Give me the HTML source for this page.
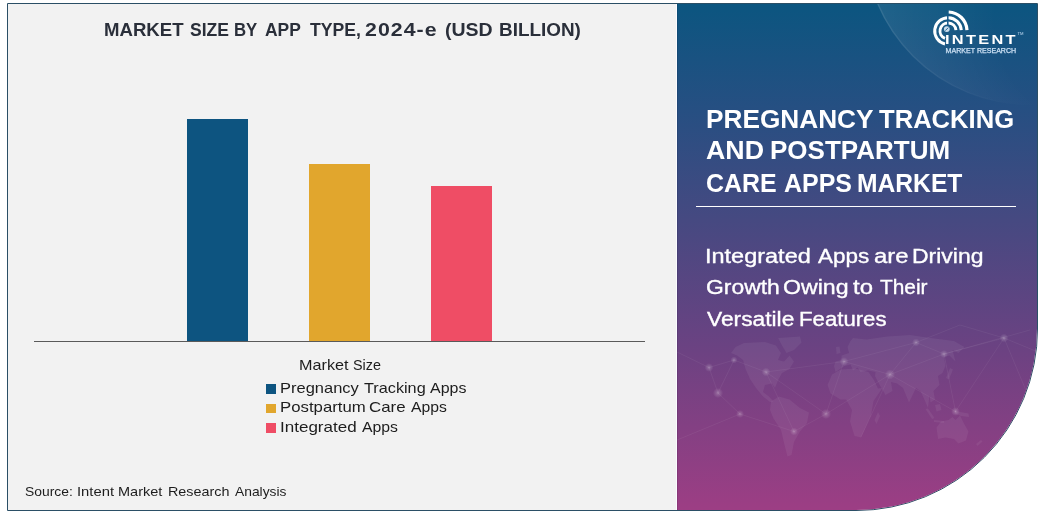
<!DOCTYPE html>
<html lang="en">
<head>
<meta charset="utf-8">
<title>Pregnancy Tracking and Postpartum Care Apps Market</title>
<style>
  html, body { margin: 0; padding: 0; background: #ffffff; }
  body { width: 1043px; height: 513px; position: relative; overflow: hidden;
         font-family: "Liberation Sans", sans-serif; }
  .frame { position: absolute; left: 7px; top: 3px; width: 1029px; height: 506px;
           border: 1px solid #2b4f66; border-bottom-right-radius: 182px;
           background: #f2f2f2; overflow: hidden; }
  /* everything inside .frame is positioned relative to page origin via offset wrapper */
  .in { position: absolute; left: -8px; top: -4px; width: 1043px; height: 513px; }
  .ln { position: absolute; left: 0; width: 1043px; height: 0; line-height: 1; white-space: nowrap; }
  .w { position: absolute; top: 0; display: block; line-height: 1; white-space: nowrap; transform-origin: 0 0; }
  .panel { position: absolute; left: 677px; top: 3px; width: 363px; height: 509px;
           box-shadow: inset 1px 0 0 rgba(0,0,20,0.10);
           background: linear-gradient(180deg, #0b5680 0%, #0d5580 1.4%, #264f82 21%, #464981 42.7%, #6c4282 68.4%, #9b3e84 98.4%, #9d3e84 100%); }
  .bar { position: absolute; }
  .sq { position: absolute; width: 10px; height: 10px; left: 266px; }
</style>
</head>
<body>
<div class="frame"><div class="in">

  <!-- chart title -->

  <!-- bars -->
  <div class="bar" style="left:187px; top:119px; width:61px; height:222px; background:#0d5480;"></div>
  <div class="bar" style="left:309px; top:164px; width:61px; height:177px; background:#e1a62d;"></div>
  <div class="bar" style="left:431px; top:186px; width:61px; height:155px; background:#ef4d65;"></div>
  <div class="bar" style="left:34px; top:341px; width:611px; height:1px; background:#5a5a5a;"></div>

  <!-- legend -->
  <div class="sq" style="top:384px; background:#0d5480;"></div>
  <div class="sq" style="top:404px; height:9px; background:#e1a62d;"></div>
  <div class="sq" style="top:423px; background:#ef4d65;"></div>

  <!-- source -->

  <div class="bar" style="left:676px; top:4px; width:1px; height:506px; background:#fbfbff;"></div>
  <!-- right panel -->
  <div class="panel">
    <svg id="deco" width="363" height="509" viewBox="677 3 363 509" style="position:absolute;left:0;top:0;">
      <defs>
        <radialGradient id="glow" gradientUnits="userSpaceOnUse" cx="1100" cy="20" r="230">
          <stop offset="0.45" stop-color="#ffffff" stop-opacity="0"/>
          <stop offset="1" stop-color="#ffffff" stop-opacity="0.085"/>
        </radialGradient>
        <radialGradient id="rim" gradientUnits="userSpaceOnUse" cx="1100" cy="20" r="230">
          <stop offset="0.55" stop-color="#ffffff" stop-opacity="0"/>
          <stop offset="1" stop-color="#ffffff" stop-opacity="0.10"/>
        </radialGradient>
        <radialGradient id="node">
          <stop offset="0" stop-color="#ffffff" stop-opacity="0.30"/>
          <stop offset="0.35" stop-color="#ffffff" stop-opacity="0.16"/>
          <stop offset="1" stop-color="#ffffff" stop-opacity="0"/>
        </radialGradient>
      </defs>
      <circle cx="1030" cy="-61" r="166" fill="url(#glow)"/>
      <circle cx="1030" cy="-61" r="165.400" fill="none" stroke="url(#rim)" stroke-width="1.400"/>
      <!-- faint world map -->
      <g id="map" fill="#ffffff" fill-opacity="0.06">
        <path d="M731 353L735.500 347L744 343L765 342L776 345.500L781 353L778 360L784 361.500L789.500 355.500L794 361.500L789.500 369L782 373L778 380.500L775 388L772 383.500L765 385L763 392L769 396.500L773.500 401.500L770 402L763 396.500L756 388L750 379L745.500 369L743 360L737 355.500Z"/>
        <path d="M778 338L800 336.500L801.500 342.500L794 350L786.500 353L782 345.500Z"/>
        <path d="M771 401.500L779 396.500L789.500 399.500L800 408L809 412.500L807 423L800 431.500L794 442L791.500 455L787.500 456.500L784.500 445L781 430L773.500 418.500L770 410Z"/>
        <path d="M827.500 385L832 374.500L840.500 369.500L855.500 368.500L868.500 372L874 380L878 388.500L882.500 388L873.500 401L871 415.500L861 437.500L854.500 436L850 421.500L852 410L846 399.500L840.500 399.500L830.500 393.500Z"/>
        <path d="M878 412L880 416L876.500 424L874.500 420Z"/>
        <path d="M853 338L866.500 339.500L887 336.500L910 335L930.500 338L954 341L964.500 347L958.500 353L952.500 350L955.500 361.500L949.500 355.500L944 357L945.500 366L942.500 373L938 376L939.500 385L933.500 391L935 399.500L930.500 402.500L929.500 395L928 408L925 401L920.500 391L916 388L909 402.500L903 388L897 383.500L891 382L892.500 391L885.500 395L878 382L875 376L875.500 372L868 370.500L860.500 372L857.500 367.500L853 370.500L850.500 364.500L844.500 366L835.500 372L834 366L835.500 361.500L841.500 360L841.500 355.500L849 353L847.500 347L850.500 341Z"/>
        <path d="M836 347L839.500 346.500L840.500 353L836.500 354Z"/>
        <path d="M950 368L953 369.500L949 379.500L946 378Z"/>
        <path d="M925.500 409L928 408.500L934.500 418L932 419Z"/>
        <path d="M935 405L940 404L941.500 410L936.500 411.500Z"/>
        <path d="M934 420L944 421L944 423L934 422Z"/>
        <path d="M955 411L968.500 413.500L969 417L961 416L955.500 414Z"/>
        <path d="M936.500 427.500L941 421.500L948.500 420L952.500 417L955.500 420L960 415.500L964.500 424.500L968.500 431.500L966 440.500L958.500 443.500L954 439L945.500 437.500L938 439Z"/>
        <path d="M976 444L981 440L982.500 441.500L977.500 446Z"/>
      </g>
      <!-- network lines and nodes -->
      <g stroke="#ffffff" stroke-opacity="0.07" stroke-width="0.8" fill="none">
        <path d="M677 352L709 367.500L718 393L740 414L794 431.500L826 414L844 361.500L890 374.500L955.500 411.500L1004 338L1038 352"/>
        <path d="M709 367.500L734 360L766 372L826 414M734 360L718 393M766 372L794 431.500M766 372L844 361.500L916 342.500L944 354L1004 338"/>
        <path d="M890 374.500L916 342.500M890 374.500L944 354L955.500 411.500M890 374.500L861 437M826 414L890 374.500M740 414L677 440M916 342.500L960 325L1004 338L1030 400M944 354L1030 330"/>
      </g>
      <g fill="url(#node)">
        <circle cx="709" cy="367.500" r="4.4"/><circle cx="718" cy="393" r="5.1"/><circle cx="740" cy="414" r="4.0"/><circle cx="734" cy="360" r="3.5"/><circle cx="766" cy="372" r="4.4"/><circle cx="826" cy="414" r="5.1"/><circle cx="794" cy="431.500" r="4.0"/><circle cx="844" cy="361.500" r="4.4"/><circle cx="890" cy="374.500" r="5.1"/><circle cx="955.500" cy="411.500" r="4.4"/><circle cx="1004" cy="338" r="4.4"/><circle cx="944" cy="354" r="4.0"/><circle cx="916" cy="342.500" r="4.0"/>
      </g>
      <!-- logo -->
      <g id="logo" fill="none" stroke="#ffffff">
        <path d="M955.950 30.100A8 8 0 1 0 945 38.420" stroke-width="2.900"/>
        <path d="M961.270 30.100A13.300 13.300 0 1 0 945 43.960" stroke-width="3"/>
        <path d="M966.980 30.100A19 19 0 0 0 948.700 12.010" stroke-width="3.200"/>
        <path d="M947.800 14L947.800 27" stroke="#15598a" stroke-width="1.500"/>
        <circle cx="946.800" cy="29.100" r="2.900" fill="#c9dcec" stroke="none"/>
        <path d="M945.300 30.600L948.300 27.600" stroke="#2b6a97" stroke-width="1"/>
      </g>
      <text transform="translate(945 44.300) scale(1.22 1)" font-family="'Liberation Sans', sans-serif" font-weight="bold" font-size="13.400" fill="#ffffff" letter-spacing="1.900">INTENT</text>
      <text x="945.600" y="52.500" font-family="'Liberation Sans', sans-serif" font-size="8" fill="#cfe3f6" stroke="#cfe3f6" stroke-width="0.250" textLength="70.600" lengthAdjust="spacingAndGlyphs">MARKET RESEARCH</text>
      <text x="1017.500" y="35.300" font-family="'Liberation Sans', sans-serif" font-size="4.200" fill="#c2dcf4">TM</text>
    </svg>
  </div>

  <div class="bar" style="left:696px; top:206px; width:320px; height:1px; background:#ffffff;"></div>


  <!-- text -->
<!--TEXT-START-->
  <div class="ln" id="title" style="top:20.79px; font-size:18.5px; font-weight:bold; color:#2a2f3a; ">
    <span class="w" style="left:103.69px; transform:scaleX(1.0047);">MARKET</span> <span class="w" style="left:189.63px; transform:scaleX(0.9480);">SIZE</span> <span class="w" style="left:234.21px; transform:scaleX(0.9068);">BY</span> <span class="w" style="left:264.52px; transform:scaleX(0.9434);">APP</span> <span class="w" style="left:309.51px; transform:scaleX(0.9536);">TYPE,</span> <span class="w" style="left:365.31px; letter-spacing:0.9px; transform:scaleX(1.1524);">2024-e</span> <span class="w" style="left:445.05px; transform:scaleX(1.0537);">(USD</span> <span class="w" style="left:498.57px; transform:scaleX(1.0219);">BILLION)</span>
  </div>
  <div class="ln" id="lt" style="top:357.65px; font-size:14.3px; font-weight:normal; color:#1d1d1d; ">
    <span class="w" style="left:299.05px; transform:scaleX(1.1333);">Market</span> <span class="w" style="left:353.20px; transform:scaleX(1.0051);">Size</span>
  </div>
  <div class="ln" id="l1" style="top:380.50px; font-size:14.3px; font-weight:normal; color:#1d1d1d; ">
    <span class="w" style="left:279.53px; transform:scaleX(1.1528);">Pregnancy</span> <span class="w" style="left:363.86px; transform:scaleX(1.1364);">Tracking</span> <span class="w" style="left:430.30px; transform:scaleX(1.1169);">Apps</span>
  </div>
  <div class="ln" id="l2" style="top:400.40px; font-size:14.3px; font-weight:normal; color:#1d1d1d; ">
    <span class="w" style="left:279.51px; transform:scaleX(1.1729);">Postpartum</span> <span class="w" style="left:369.47px; transform:scaleX(1.1801);">Care</span> <span class="w" style="left:410.80px; transform:scaleX(1.1013);">Apps</span>
  </div>
  <div class="ln" id="l3" style="top:419.50px; font-size:14.3px; font-weight:normal; color:#1d1d1d; ">
    <span class="w" style="left:279.85px; transform:scaleX(1.1904);">Integrated</span> <span class="w" style="left:362.20px; transform:scaleX(1.1044);">Apps</span>
  </div>
  <div class="ln" id="src" style="top:484.91px; font-size:13.1px; font-weight:normal; color:#1d1d1d; ">
    <span class="w" style="left:25.07px; transform:scaleX(1.0596);">Source:</span> <span class="w" style="left:77.05px; transform:scaleX(1.1289);">Intent</span> <span class="w" style="left:118.49px; transform:scaleX(1.1078);">Market</span> <span class="w" style="left:167.70px; transform:scaleX(1.0962);">Research</span> <span class="w" style="left:234.80px; transform:scaleX(1.0553);">Analysis</span>
  </div>
  <div class="ln" id="h1" style="top:105.67px; font-size:26.5px; font-weight:bold; color:#ffffff; ">
    <span class="w" style="left:705.76px; transform:scaleX(0.9893);">PREGNANCY</span> <span class="w" style="left:879.20px; transform:scaleX(0.9661);">TRACKING</span>
  </div>
  <div class="ln" id="h2" style="top:137.32px; font-size:26.5px; font-weight:bold; color:#ffffff; ">
    <span class="w" style="left:706.38px; transform:scaleX(1.0093);">AND</span> <span class="w" style="left:770.07px; transform:scaleX(0.9817);">POSTPARTUM</span>
  </div>
  <div class="ln" id="h3" style="top:169.97px; font-size:26.5px; font-weight:bold; color:#ffffff; ">
    <span class="w" style="left:706.02px; transform:scaleX(0.9407);">CARE</span> <span class="w" style="left:783.81px; transform:scaleX(0.9416);">APPS</span> <span class="w" style="left:857.46px; transform:scaleX(0.9297);">MARKET</span>
  </div>
  <div class="ln" id="s1" style="top:245.97px; font-size:20.0px; font-weight:normal; color:#ffffff; -webkit-text-stroke:0.35px #fff;">
    <span class="w" style="left:705.29px; transform:scaleX(1.1741);">Integrated</span> <span class="w" style="left:817.60px; transform:scaleX(1.1228);">Apps</span> <span class="w" style="left:873.74px; transform:scaleX(1.1949);">are</span> <span class="w" style="left:912.26px; transform:scaleX(1.1479);">Driving</span>
  </div>
  <div class="ln" id="s2" style="top:277.37px; font-size:20.0px; font-weight:normal; color:#ffffff; -webkit-text-stroke:0.35px #fff;">
    <span class="w" style="left:705.66px; transform:scaleX(1.1440);">Growth</span> <span class="w" style="left:783.16px; transform:scaleX(1.1564);">Owing</span> <span class="w" style="left:853.24px; transform:scaleX(1.1956);">to</span> <span class="w" style="left:879.58px; transform:scaleX(1.0422);">Their</span>
  </div>
  <div class="ln" id="s3" style="top:308.67px; font-size:20.0px; font-weight:normal; color:#ffffff; -webkit-text-stroke:0.35px #fff;">
    <span class="w" style="left:706.80px; transform:scaleX(1.1386);">Versatile</span> <span class="w" style="left:799.03px; transform:scaleX(1.1093);">Features</span>
  </div>
<!--TEXT-END-->
</div></div>
</body>
</html>
